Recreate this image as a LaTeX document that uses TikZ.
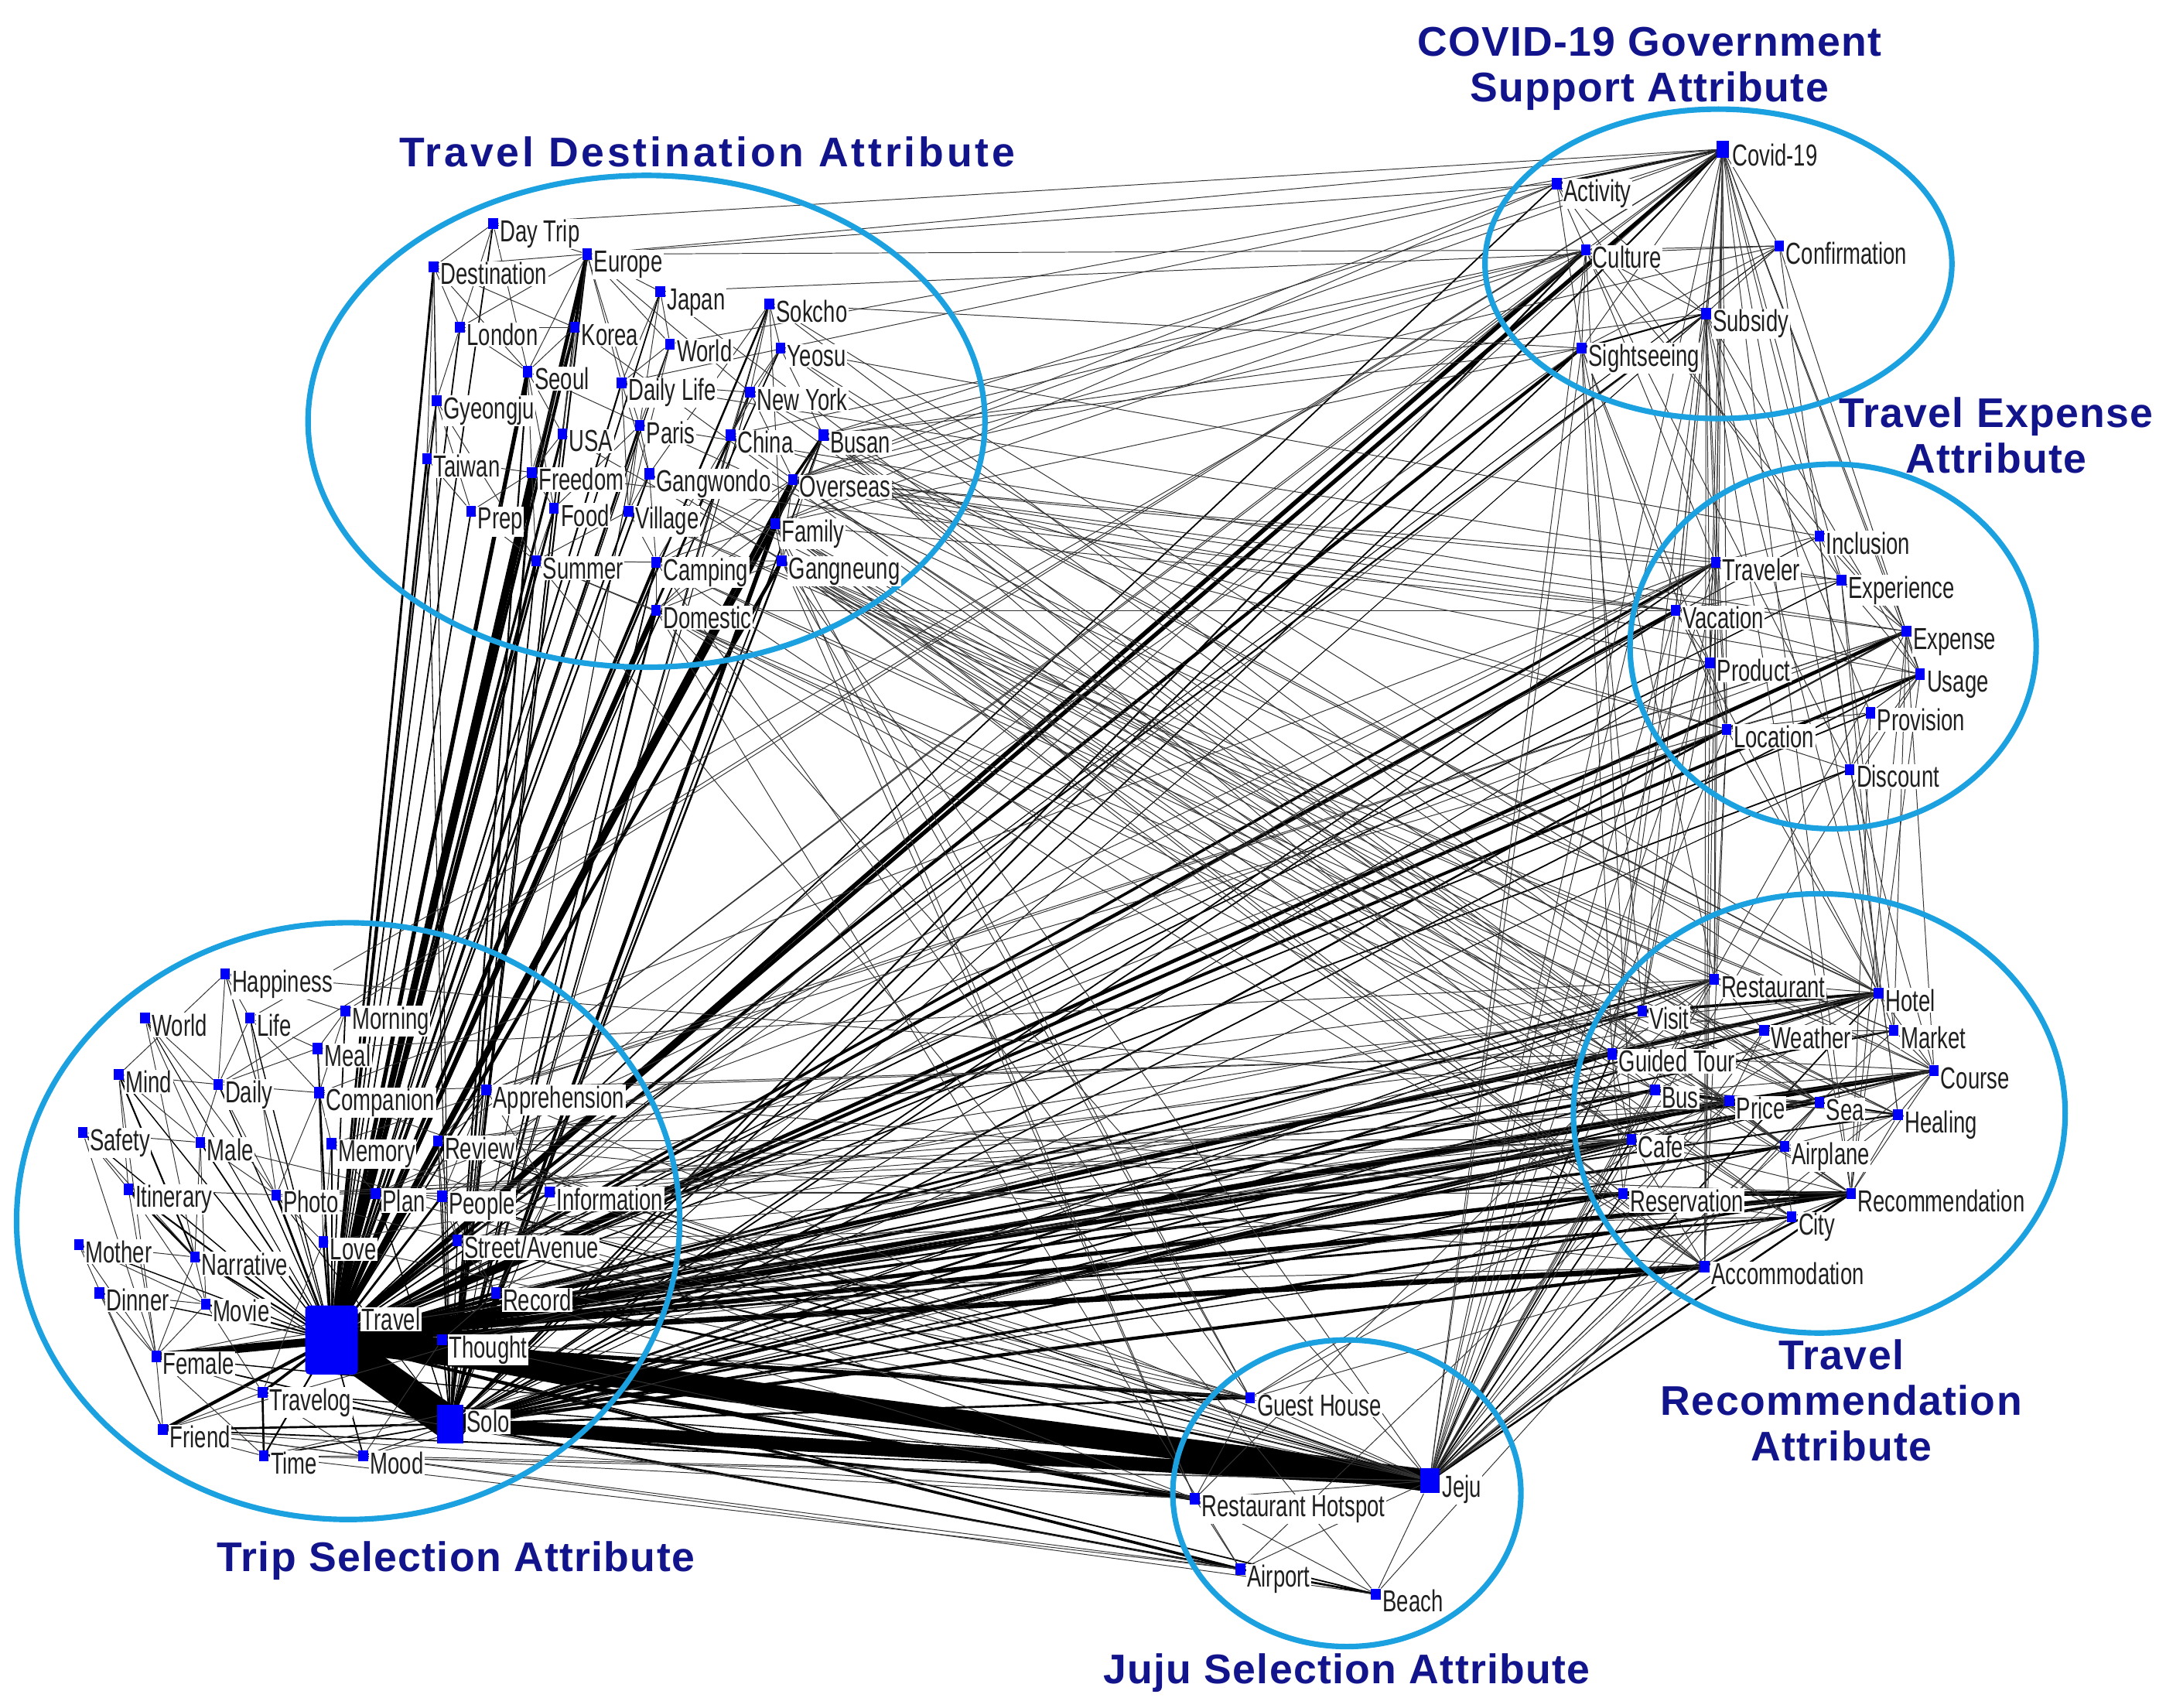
\documentclass[tikz,border=0pt]{standalone}
\usepackage{fontspec}
\setmainfont{Liberation Sans}
\newfontfamily\lblfont[FakeStretch=0.70]{Liberation Sans}
\newfontfamily\ttlfont[LetterSpace=2.5]{Liberation Sans}
\usetikzlibrary{backgrounds}
\definecolor{kwblue}{RGB}{0,0,250}
\definecolor{navy}{RGB}{18,20,140}
\definecolor{ring}{RGB}{27,160,224}
\tikzset{
  sq/.style={fill=kwblue, minimum width=7pt, minimum height=8pt, inner sep=0pt},
  lbl/.style={anchor=base west, fill=white, inner sep=0.8pt, text=black!88, font=\lblfont\fontsize{22}{22}\selectfont},
  ttl/.style={text=navy, align=center, font=\ttlfont\bfseries\fontsize{30}{33}\selectfont},
  ringline/.style={draw=ring, line width=4pt},
  th/.style={line width=0.55pt, draw=black!80},
}
\newcommand\kw[4]{\node[sq] (#1) at (#2,#3) {}; \node[lbl] (#1-l) at (#2+4,#3+13) {#4};}
\begin{document}
\begin{tikzpicture}[x=1pt,y=-1pt]
\useasboundingbox (0,0) rectangle (1568,1236);
% ---------- circles ----------
\draw[ringline] (468,305) ellipse [x radius=245pt, y radius=178pt];
\draw[ringline] (252,884) ellipse [x radius=240pt, y radius=216pt];
\draw[ringline] (1244,191) ellipse [x radius=169pt, y radius=112pt];
\draw[ringline] (1327,468) ellipse [x radius=147pt, y radius=132pt];
\draw[ringline] (1317,806) ellipse [x radius=178pt, y radius=159pt];
\draw[ringline] (975,1081) ellipse [x radius=126pt, y radius=111pt];
% ---------- titles ----------
\node[ttl] (t-dest) at (512,110) {\addfontfeature{LetterSpace=7.2}Travel Destination Attribute};
\node[ttl] (t-covid) at (1194,50) {COVID-19 Government\\Support Attribute};
\node[ttl] (t-exp) at (1445,315) {Travel Expense\\Attribute};
\node[ttl] (t-trip) at (330,1130) {Trip Selection Attribute};
\node[ttl] (t-rec) at (1333,1014) {Travel\\Recommendation\\Attribute};
\node[ttl] (t-juju) at (975,1211) {Juju Selection Attribute};
% ---------- destination cluster ----------
\kw{daytrip}{357}{162}{Day Trip}
\kw{destination}{314}{193}{Destination}
\kw{europe}{425}{184}{Europe}
\kw{japan}{478}{211}{Japan}
\kw{sokcho}{557}{220}{Sokcho}
\kw{london}{333}{237}{London}
\kw{korea}{416}{237}{Korea}
\kw{worldd}{485}{249}{World}
\kw{yeosu}{565}{252}{Yeosu}
\kw{seoul}{382}{269}{Seoul}
\kw{dailylife}{450}{277}{Daily Life}
\kw{newyork}{543}{284}{New York}
\kw{gyeongju}{316}{290}{Gyeongju}
\kw{usa}{407}{314}{USA}
\kw{paris}{463}{308}{Paris}
\kw{china}{529}{315}{China}
\kw{busan}{596}{315}{Busan}
\kw{taiwan}{309}{332}{Taiwan}
\kw{freedom}{385}{342}{Freedom}
\kw{gangwondo}{470}{343}{Gangwondo}
\kw{overseas}{574}{347}{Overseas}
\kw{prep}{341}{370}{Prep}
\kw{food}{401}{368}{Food}
\kw{village}{455}{370}{Village}
\kw{family}{561}{379}{Family}
\kw{summer}{388}{406}{Summer}
\kw{camping}{475}{407}{Camping}
\kw{gangneung}{566}{406}{Gangneung}
\kw{domestic}{475}{442}{Domestic}
% ---------- trip selection cluster ----------
\kw{happiness}{163}{705}{Happiness}
\kw{worldt}{105}{737}{World}
\kw{life}{181}{737}{Life}
\kw{morning}{250}{732}{Morning}
\kw{meal}{230}{759}{Meal}
\kw{mind}{86}{778}{Mind}
\kw{daily}{158}{785}{Daily}
\kw{companion}{231}{791}{Companion}
\kw{apprehension}{352}{789}{Apprehension}
\kw{safety}{60}{820}{Safety}
\kw{male}{145}{827}{Male}
\kw{memory}{240}{828}{Memory}
\kw{review}{317}{826}{Review}
\kw{itinerary}{93}{861}{Itinerary}
\kw{photo}{200}{865}{Photo}
\kw{plan}{272}{864}{Plan}
\kw{people}{320}{866}{People}
\kw{information}{398}{863}{Information}
\kw{mother}{57}{901}{Mother}
\kw{narrative}{141}{910}{Narrative}
\kw{love}{234}{899}{Love}
\kw{street}{331}{898}{Street/Avenue}
\kw{dinner}{72}{936}{Dinner}
\kw{movie}{149}{944}{Movie}
\kw{record}{359}{936}{Record}
\kw{thought}{320}{970}{Thought}
\kw{female}{113}{982}{Female}
\kw{travelog}{190}{1008}{Travelog}
\kw{friend}{118}{1035}{Friend}
\kw{time}{191}{1054}{Time}
\kw{mood}{263}{1054}{Mood}
\node[sq, minimum width=38pt, minimum height=50pt, rounded corners=3pt] (travel) at (240,970) {};
\node[lbl] (travel-l) at (261,963) {Travel};
\node[sq, minimum width=19pt, minimum height=28pt] (solo) at (326,1031) {};
\node[lbl] (solo-l) at (337,1037) {Solo};
% ---------- covid cluster ----------
\node[sq, minimum width=9pt, minimum height=12pt] (covid) at (1247,108) {};
\node[lbl] (covid-l) at (1253,120) {Covid-19};
\kw{activity}{1127}{133}{Activity}
\kw{culture}{1148}{181}{Culture}
\kw{confirmation}{1288}{178}{Confirmation}
\kw{subsidy}{1235}{227}{Subsidy}
\kw{sightseeing}{1145}{252}{Sightseeing}
% ---------- expense cluster ----------
\kw{inclusion}{1317}{388}{Inclusion}
\kw{traveler}{1242}{407}{Traveler}
\kw{experience}{1333}{420}{Experience}
\kw{vacation}{1213}{442}{Vacation}
\kw{expense}{1380}{457}{Expense}
\kw{product}{1238}{480}{Product}
\kw{usage}{1390}{488}{Usage}
\kw{provision}{1354}{516}{Provision}
\kw{location}{1250}{528}{Location}
\kw{discount}{1339}{557}{Discount}
% ---------- recommendation cluster ----------
\kw{restaurant}{1241}{709}{Restaurant}
\kw{hotel}{1360}{719}{Hotel}
\kw{visit}{1189}{732}{Visit}
\kw{weather}{1277}{746}{Weather}
\kw{market}{1371}{746}{Market}
\kw{guided}{1167}{763}{Guided Tour}
\kw{course}{1400}{775}{Course}
\kw{bus}{1198}{789}{Bus}
\kw{price}{1252}{797}{Price}
\kw{sea}{1317}{798}{Sea}
\kw{healing}{1374}{807}{Healing}
\kw{cafe}{1181}{825}{Cafe}
\kw{airplane}{1292}{830}{Airplane}
\kw{reservation}{1175}{864}{Reservation}
\kw{recommendation}{1340}{864}{Recommendation}
\kw{city}{1297}{881}{City}
\kw{accommodation}{1234}{917}{Accommodation}
% ---------- juju cluster ----------
\kw{guesthouse}{905}{1012}{Guest House}
\node[sq, minimum width=14pt, minimum height=18pt] (jeju) at (1035,1072) {};
\node[lbl] (jeju-l) at (1043,1084) {Jeju};
\kw{hotspot}{865}{1085}{Restaurant Hotspot}
\kw{airport}{898}{1136}{Airport}
\kw{beach}{996}{1154}{Beach}
% ================= edges =================
\begin{pgfonlayer}{background}
\fill[white] (0,0) rectangle (1568,1236);
% heavy hub ties
\draw[line width=24pt, line cap=round] (travel.center) -- (solo.center);
\draw[line width=16pt] (travel.center) -- (jeju.center);
\draw[line width=10pt] (solo.center) -- (jeju.center);
\foreach \a/\b/\w in {thought/jeju/4, travel/female/6, travel/thought/3, travel/record/2.2,
  overseas/family/3, busan/overseas/2, europe/korea/2.2, visit/hotel/2, course/price/2,
  bus/price/2.5, reservation/recommendation/3, recommendation/accommodation/1.5,
  covid/activity/1.6, subsidy/sightseeing/1.2, airport/beach/1.5, price/sea/1.2, sea/healing/1.2,
  jeju/accommodation/1.4, jeju/recommendation/1.4, jeju/reservation/1, jeju/cafe/1, jeju/guided/1, jeju/hotel/1,
  record/jeju/1.5, people/jeju/1, street/jeju/1, review/jeju/0.8, friend/jeju/1, female/jeju/0.8, travelog/jeju/0.8,
  itinerary/narrative/1.5, mind/narrative/1.2, time/travelog/1.5}
  \draw[line width=\w pt] (\a.center) -- (\b.center);
% travel hub
\foreach \b/\w in {daytrip/1, destination/1.6, europe/2.8, japan/1, sokcho/1.4, london/1, korea/2.2, worldd/0.8,
  yeosu/1, seoul/3, dailylife/1.2, newyork/1.4, gyeongju/1.2, usa/1.8, paris/1.6, china/1.4, busan/1.4,
  taiwan/1.6, freedom/3.6, gangwondo/1.2, overseas/3.2, prep/1, food/1.6, village/1.2, family/3.4,
  summer/2.2, camping/2.2, gangneung/2.6, domestic/3,
  happiness/0.6, worldt/0.6, life/0.8, morning/1, meal/1, mind/0.8, daily/0.8, companion/1.2,
  apprehension/1, safety/0.8, male/1, memory/1.2, review/1.4, itinerary/1.2, photo/1.6, plan/1.6,
  people/1.6, information/1, mother/0.8, narrative/1.2, love/1.4, street/1.2, dinner/0.8, movie/1.2,
  travelog/2, friend/2.4, time/1.2, mood/1,
  covid/3, culture/3.2, sightseeing/2.4, activity/1, subsidy/1.2, confirmation/0.6,
  traveler/2, vacation/2.2, expense/2.6, usage/2.2, location/2.4, product/1, provision/1, discount/1,
  experience/0.8, inclusion/0.6,
  guided/3, cafe/3.2, reservation/3, recommendation/3.4, accommodation/4, bus/2.2, price/2.2, hotel/2.8,
  course/2.6, visit/1.6, restaurant/1.6, weather/1.2, market/1.2, sea/1.6, healing/1.2, airplane/2, city/1.6,
  guesthouse/3, hotspot/3.5, airport/2, beach/1}
  \draw[line width=\w pt] (travel.center) -- (\b.center);
% solo hub
\foreach \b/\w in {europe/1.2, seoul/1.2, freedom/1.6, overseas/2, family/1.8, domestic/1.6, camping/1,
  gangneung/1.4, busan/1, korea/1, summer/1, destination/0.6, taiwan/0.6, usa/0.6, paris/0.6, china/0.6,
  newyork/0.6, sokcho/0.6, food/0.6,
  thought/1, record/1, people/0.8, review/0.6, plan/0.8, photo/0.6, female/1, friend/1.5, time/1,
  mood/0.6, travelog/1, narrative/0.6, street/0.8, information/0.6, apprehension/0.6,
  covid/1.2, culture/1.2, sightseeing/1, subsidy/0.6,
  traveler/1, vacation/1, expense/1.2, usage/1, location/1.2, product/0.6, discount/0.6,
  guided/1.6, cafe/1.8, reservation/1.6, recommendation/2, accommodation/2.4, bus/1.2, price/1.2,
  hotel/1.4, course/1.4, visit/0.8, restaurant/0.8, sea/0.8, airplane/1, city/0.8,
  guesthouse/1.5, hotspot/2, airport/1.5, beach/0.8}
  \draw[line width=\w pt] (solo.center) -- (\b.center);
% thin ties
\foreach \a/\b in {daytrip/destination, daytrip/europe, daytrip/london, daytrip/seoul, destination/europe,
  destination/london, destination/gyeongju, destination/taiwan, destination/korea, destination/seoul,
  europe/seoul, europe/japan, europe/worldd, europe/paris, europe/usa, europe/dailylife, europe/newyork,
  europe/london, london/seoul, london/gyeongju, london/korea, korea/seoul, korea/freedom, korea/usa,
  japan/dailylife, japan/paris, japan/worldd, worldd/dailylife, worldd/village, worldd/paris,
  sokcho/newyork, sokcho/china, sokcho/gangneung, sokcho/gangwondo, sokcho/yeosu, yeosu/newyork,
  yeosu/busan, yeosu/china, newyork/china, newyork/overseas, dailylife/newyork, dailylife/gangwondo,
  dailylife/village, seoul/freedom, seoul/usa, seoul/food, gyeongju/taiwan, gyeongju/prep, gyeongju/summer,
  usa/food, usa/freedom, paris/gangwondo, paris/village, paris/food, china/overseas, china/camping,
  busan/family, busan/gangneung, taiwan/prep, taiwan/freedom, freedom/food, freedom/summer, freedom/prep,
  gangwondo/camping, gangwondo/village, gangwondo/gangneung, overseas/camping, overseas/domestic,
  overseas/gangneung, village/camping, village/summer, food/summer, family/camping, family/domestic,
  family/gangneung, summer/camping, summer/domestic, camping/domestic, camping/gangneung,
  gangneung/domestic, prep/summer}
  \draw[th] (\a) -- (\b);
\foreach \a/\b in {europe/covid, europe/activity, europe/culture, japan/confirmation, sokcho/sightseeing,
  sokcho/hotel, sokcho/sea, yeosu/sea, yeosu/course, yeosu/inclusion, newyork/hotel, newyork/airplane,
  china/location, china/culture, busan/hotel, busan/guided, busan/cafe, busan/recommendation,
  busan/sightseeing, busan/culture, busan/covid, busan/sea, busan/subsidy, overseas/expense,
  overseas/usage, overseas/location, overseas/traveler, overseas/vacation, overseas/hotel,
  overseas/airplane, overseas/price, overseas/guided, overseas/covid, overseas/activity, overseas/culture,
  overseas/product, overseas/experience, family/accommodation, family/recommendation, family/cafe,
  family/reservation, family/guesthouse, family/hotspot, family/vacation, family/culture,
  family/sightseeing, family/visit, family/city, gangneung/cafe, gangneung/recommendation,
  gangneung/accommodation, gangneung/reservation, gangneung/bus, gangneung/sea, gangneung/hotspot,
  gangneung/guesthouse, gangneung/jeju, gangneung/healing, gangneung/market, gangneung/restaurant,
  gangneung/city, domestic/guided, domestic/accommodation, domestic/city, domestic/jeju, domestic/airport,
  domestic/bus, domestic/vacation, camping/guesthouse, camping/accommodation, camping/sea, camping/healing,
  gangwondo/healing, gangwondo/course, village/course, village/market, dailylife/experience,
  dailylife/covid, worldd/covid, japan/airplane, paris/expense, usa/price, korea/city, seoul/hotel,
  freedom/vacation, summer/beach, summer/sea}
  \draw[th] (\a) -- (\b);
\foreach \a/\b in {happiness/life, happiness/morning, happiness/daily, happiness/mind, worldt/daily,
  worldt/narrative, worldt/male, worldt/photo, life/meal, life/companion, life/daily, life/photo,
  morning/meal, morning/companion, meal/companion, meal/daily, mind/daily, mind/itinerary,
  mind/male, mind/female, daily/companion, daily/male, daily/photo, companion/memory, companion/love,
  companion/photo, apprehension/review, apprehension/people, apprehension/information, safety/male,
  safety/itinerary, safety/female, safety/narrative, male/photo, male/narrative, male/movie, memory/love,
  memory/plan, review/people, review/street, itinerary/female, itinerary/movie, itinerary/photo,
  photo/love, photo/plan, plan/people, people/street, people/record, information/street,
  information/record, mother/female, mother/narrative, mother/movie, mother/friend, narrative/movie,
  narrative/female, love/travelog, street/record, dinner/female, dinner/movie, dinner/friend,
  movie/female, movie/travelog, record/thought, female/friend, female/travelog, female/time,
  travelog/friend, travelog/mood, friend/time, time/mood, friend/mood, thought/mood}
  \draw[th] (\a) -- (\b);
\foreach \a/\b in {apprehension/covid, apprehension/expense, apprehension/reservation, apprehension/guided,
  apprehension/culture, apprehension/usage, information/reservation, information/location,
  information/price, information/recommendation, information/cafe, information/covid, information/subsidy,
  review/cafe, review/restaurant, review/hotel, review/accommodation, review/recommendation,
  review/sightseeing, people/visit, people/guided, people/culture, people/traveler, street/cafe,
  street/restaurant, street/market, street/city, record/accommodation, record/cafe, record/course,
  record/guided, record/traveler, thought/price, thought/recommendation, thought/hotspot,
  thought/guesthouse, plan/reservation, plan/course, plan/traveler, plan/expense, photo/sea, photo/cafe,
  companion/traveler, companion/guided, memory/expense, mood/cafe, mood/hotspot, mood/beach, time/course,
  friend/restaurant, friend/hotspot, friend/airport, female/hotel, female/cafe, morning/covid,
  meal/restaurant, love/hotel, happiness/healing, daily/covid, life/culture, male/guesthouse,
  travelog/airport, time/airport, information/jeju, photo/jeju, time/jeju, mood/jeju, plan/jeju,
  love/jeju, companion/jeju, memory/jeju, apprehension/jeju, record/hotspot, people/hotspot,
  street/guesthouse, review/guesthouse, information/guesthouse}
  \draw[th] (\a) -- (\b);
\foreach \a/\b in {covid/culture, covid/subsidy, covid/confirmation, covid/sightseeing, covid/traveler,
  covid/vacation, covid/product, covid/location, covid/experience, covid/expense, covid/usage,
  covid/inclusion, covid/restaurant, covid/visit, covid/guided, covid/hotel, covid/recommendation,
  covid/accommodation, covid/daytrip, covid/jeju, activity/culture, activity/subsidy, activity/family,
  activity/experience, activity/sightseeing, culture/subsidy, culture/sightseeing, culture/confirmation,
  culture/expense, culture/cafe, culture/traveler, culture/discount, confirmation/subsidy,
  confirmation/sightseeing, confirmation/healing, confirmation/usage, confirmation/overseas,
  subsidy/traveler, subsidy/location, subsidy/product, subsidy/vacation, subsidy/usage, subsidy/provision,
  subsidy/hotel, subsidy/recommendation, subsidy/accommodation, subsidy/jeju, sightseeing/guided,
  sightseeing/visit, sightseeing/restaurant, sightseeing/location, sightseeing/jeju, sightseeing/product,
  culture/jeju}
  \draw[th] (\a) -- (\b);
\foreach \a/\b in {traveler/inclusion, traveler/vacation, traveler/product, traveler/location,
  traveler/restaurant, traveler/visit, vacation/experience, vacation/usage, vacation/product,
  vacation/guided, vacation/hotel, product/location, product/visit, expense/usage, expense/experience,
  expense/inclusion, expense/location, expense/course, expense/recommendation, usage/provision,
  usage/location, usage/hotel, usage/discount, provision/location, provision/recommendation,
  provision/discount, discount/course, discount/location, inclusion/experience, inclusion/healing,
  experience/hotel, experience/usage, location/hotel, location/restaurant, location/accommodation,
  product/accommodation, experience/market, expense/market}
  \draw[th] (\a) -- (\b);
\foreach \a/\b in {restaurant/hotel, restaurant/visit, restaurant/guided, restaurant/weather, visit/guided,
  visit/weather, hotel/market, hotel/guided, hotel/course, hotel/weather, hotel/bus, hotel/recommendation,
  weather/market, weather/guided, weather/price, market/course, guided/course, guided/bus, guided/price,
  guided/cafe, guided/reservation, course/sea, course/healing, course/recommendation, bus/cafe, bus/sea,
  price/airplane, price/cafe, sea/airplane, healing/recommendation, healing/airplane, cafe/airplane,
  cafe/reservation, cafe/recommendation, airplane/recommendation, airplane/city, reservation/city,
  reservation/accommodation, recommendation/city, city/accommodation, accommodation/cafe}
  \draw[th] (\a) -- (\b);
\foreach \a/\b in {jeju/guesthouse, jeju/hotspot, jeju/airport, jeju/beach, hotspot/beach, hotspot/airport,
  guesthouse/hotspot, guesthouse/accommodation, guesthouse/hotel, guesthouse/reservation,
  hotspot/restaurant, airport/price, beach/sea, jeju/city, jeju/course, jeju/bus, jeju/price,
  jeju/airplane, jeju/restaurant, jeju/visit, jeju/sea, jeju/healing, jeju/market, jeju/weather,
  jeju/location, jeju/usage, jeju/expense, jeju/vacation, jeju/traveler, jeju/product}
  \draw[th] (\a) -- (\b);
\end{pgfonlayer}
\end{tikzpicture}
\end{document}
